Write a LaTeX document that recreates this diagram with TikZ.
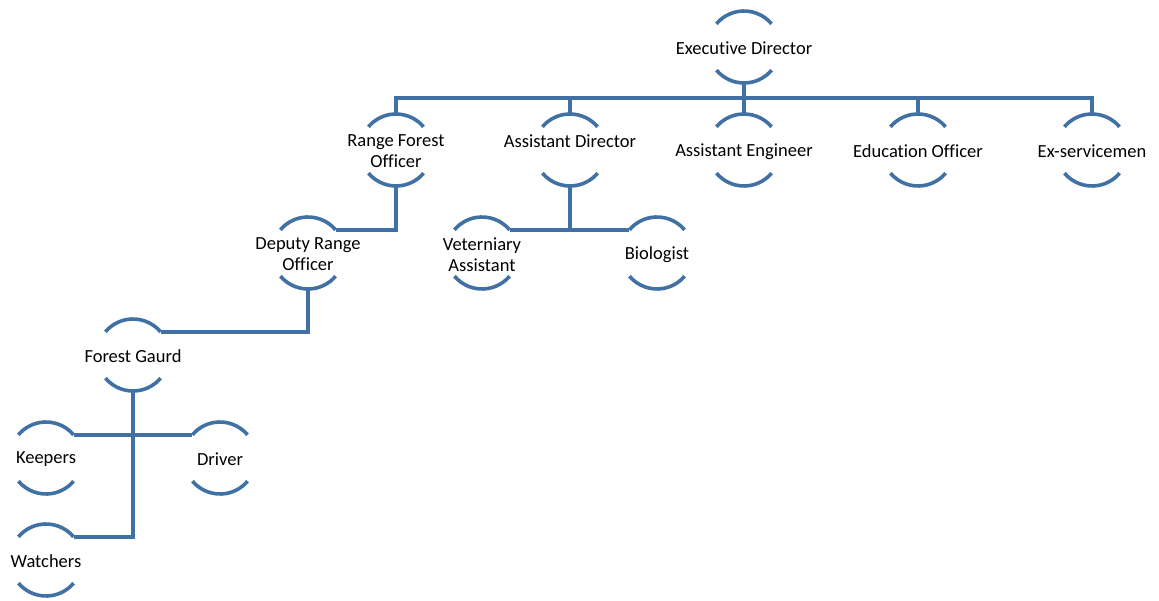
\documentclass[tikz,border=0pt]{standalone}
\usepackage{fontspec}
\setmainfont[Ligatures=NoCommon]{Carlito}
\definecolor{orgblue}{RGB}{65,113,164}
\begin{document}
\begin{tikzpicture}[x=1pt,y=-1pt,
  unit/.style={circle,minimum size=72pt,inner sep=0pt,outer sep=0pt},
  lbl/.style={align=center,font=\fontsize{18.5}{21}\selectfont,text=black,inner sep=0pt,yshift=-1.5pt},
  arcline/.style={draw=orgblue,line width=3.6pt},
  conn/.style={draw=orgblue,line width=3.6pt,line join=miter}]
\useasboundingbox (0,0) rectangle (1159,601);
% nodes
\node[unit,label={[lbl]center:Executive Director}] (ed) at (744,47) {};
\node[unit,label={[lbl]center:Range Forest\\Officer}] (rfo) at (396,150) {};
\node[unit,label={[lbl,yshift=10pt]center:Assistant Director}] (ad) at (570,150) {};
\node[unit,label={[lbl]center:Assistant Engineer}] (ae) at (744,150) {};
\node[unit,label={[lbl]center:Education Officer}] (eo) at (918,150) {};
\node[unit,label={[lbl]center:Ex-servicemen}] (exs) at (1092,150) {};
\node[unit,label={[lbl]center:Deputy Range\\Officer}] (dro) at (308,253) {};
\node[unit,label={[lbl]center:Veterniary\\Assistant}] (va) at (482,253) {};
\node[unit,label={[lbl]center:Biologist}] (bio) at (657,253) {};
\node[unit,label={[lbl]center:Forest Gaurd}] (fg) at (133,355) {};
\node[unit,label={[lbl]center:Keepers}] (kp) at (46,458) {};
\node[unit,label={[lbl]center:Driver}] (dr) at (220,458) {};
\node[unit,label={[lbl]center:Watchers}] (wat) at (46,560) {};
% half-circle arcs
\foreach \n in {ed,rfo,ad,ae,eo,exs,dro,va,bio,fg,kp,dr,wat}{
  \draw[arcline] (\n.40) arc[start angle=40,end angle=140,radius=36pt];
  \draw[arcline] (\n.220) arc[start angle=220,end angle=320,radius=36pt];
}
% connectors
\draw[conn] (ed.south) -- ++(0,15) coordinate (bus);
\draw[conn] (rfo.north) |- (bus -| exs.north) -- (exs.north);
\draw[conn] (ad.north) -- (ad.north |- bus);
\draw[conn] (ae.north) -- (ae.north |- bus);
\draw[conn] (eo.north) -- (eo.north |- bus);
\draw[conn] (rfo.south) |- (dro.40);
\draw[conn] (ad.south) -- (ad.south |- va.40);
\draw[conn] (va.40) -- (bio.140);
\draw[conn] (dro.south) |- (fg.40);
\draw[conn] (fg.south) |- (wat.40);
\draw[conn] (kp.40) -- (dr.140);
\end{tikzpicture}
\end{document}
